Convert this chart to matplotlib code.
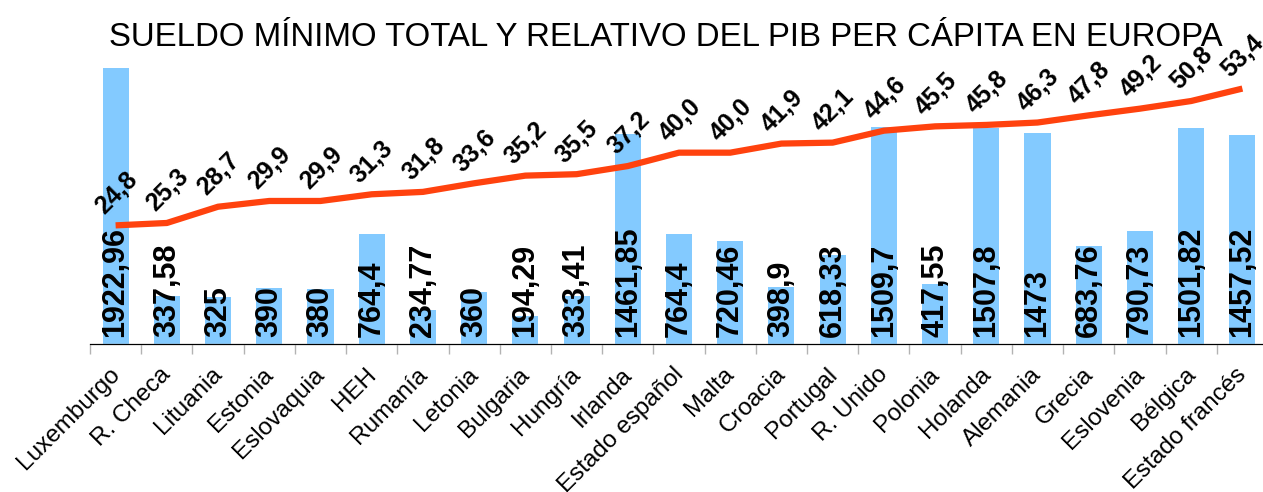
import numpy as np
import matplotlib.pyplot as plt

plt.rcParams['font.family'] = ['Liberation Sans', 'DejaVu Sans']

paises = ['Luxemburgo', 'R. Checa', 'Lituania', 'Estonia', 'Eslovaquia', 'HEH',
          'Rumanía', 'Letonia', 'Bulgaria', 'Hungría', 'Irlanda', 'Estado español',
          'Malta', 'Croacia', 'Portugal', 'R. Unido', 'Polonia', 'Holanda',
          'Alemania', 'Grecia', 'Eslovenia', 'Bélgica', 'Estado francés']
sueldo = [1922.96, 337.58, 325, 390, 380, 764.4, 234.77, 360, 194.29, 333.41,
          1461.85, 764.4, 720.46, 398.9, 618.33, 1509.7, 417.55, 1507.8, 1473,
          683.76, 790.73, 1501.82, 1457.52]
sueldo_txt = ['1922,96', '337,58', '325', '390', '380', '764,4', '234,77', '360',
              '194,29', '333,41', '1461,85', '764,4', '720,46', '398,9', '618,33',
              '1509,7', '417,55', '1507,8', '1473', '683,76', '790,73', '1501,82',
              '1457,52']
relativo = [24.8, 25.3, 28.7, 29.9, 29.9, 31.3, 31.8, 33.6, 35.2, 35.5, 37.2, 40.0,
            40.0, 41.9, 42.1, 44.6, 45.5, 45.8, 46.3, 47.8, 49.2, 50.8, 53.4]

BAR_COLOR = '#83caff'
LINE_COLOR = '#ff420e'
AXIS_GRAY = '#b3b3b3'

fig = plt.figure(figsize=(12.63, 4.92), dpi=100)
W, H = 1263, 492
ax = fig.add_axes([90 / W, (H - 344) / H, (1268 - 90) / W, (344 - 57) / H])
ax2 = ax.twinx()

x = np.arange(len(paises))
ax.bar(x, sueldo, width=0.51, color=BAR_COLOR, zorder=1)
ax.set_ylim(0, 2000)
ax.set_xlim(-0.5, len(paises) - 0.5)

# etiquetas de las barras, dentro y pegadas a la base
for xi, txt in zip(x, sueldo_txt):
    ax.annotate(txt, xy=(xi, 0), xytext=(0, 5), textcoords='offset points',
                rotation=90, ha='center', va='bottom', fontsize=22,
                fontweight='bold', color='black', zorder=3)

ax2.plot(x, relativo, color=LINE_COLOR, linewidth=4.5, solid_capstyle='butt', zorder=2)
ax2.set_ylim(0, 60)
for xi, v in zip(x, relativo):
    ax2.annotate(f'{v:.1f}'.replace('.', ','), xy=(xi, v), xytext=(0.5, 23.5),
                 textcoords='offset points', rotation=45, ha='center', va='center',
                 fontsize=18, fontweight='bold', color='black')

for a in (ax, ax2):
    for s in ('top', 'right', 'left'):
        a.spines[s].set_visible(False)
    a.set_yticks([])
ax.spines['bottom'].set_color(AXIS_GRAY)
ax.spines['bottom'].set_linewidth(1)

# nombres de países girados, sin marcas en el centro
ax.set_xticks(x)
ax.set_xticklabels([])
ax.tick_params(axis='x', which='major', length=0)
for xi, nombre in zip(x, paises):
    ax.annotate(nombre, xy=(xi, 0), xytext=(-5, -14), textcoords='offset points',
                rotation=45, rotation_mode='anchor', ha='right', va='top',
                fontsize=17.5, annotation_clip=False)
ax.set_xticks(np.arange(-0.5, len(paises)), minor=True)
ax.tick_params(axis='x', which='minor', length=7, color=AXIS_GRAY, width=1)

fig.text(666 / W, 1 - 37 / H, 'SUELDO MÍNIMO TOTAL Y RELATIVO DEL PIB PER CÁPITA EN EUROPA',
         ha='center', va='center', fontsize=23.8)

fig.savefig('out.png', dpi=100)
